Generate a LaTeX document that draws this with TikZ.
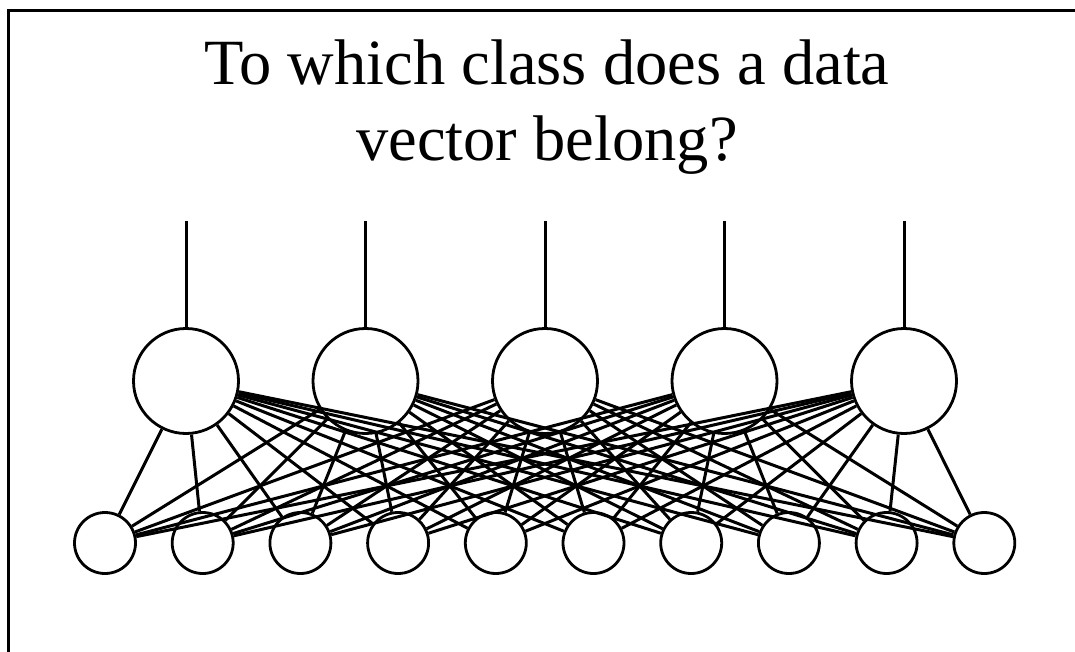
\documentclass[tikz,border=0pt]{standalone}
\usepackage{fontspec}
\setmainfont{Liberation Serif}
\begin{document}
\begin{tikzpicture}[x=1pt, y=-1pt,
    bigunit/.style={circle, draw, line width=2.8pt, minimum size=105pt, inner sep=0pt},
    smallunit/.style={circle, draw, line width=2.8pt, minimum size=61pt, inner sep=0pt},
    link/.style={line width=3pt}]
    \useasboundingbox (0,0) rectangle (1075,652);
    % frame
    \draw[line width=3.5pt] (1075,10.5) -- (8.5,10.5) -- (8.5,652);
    % title
    \node[align=center, inner sep=0pt, font=\fontsize{64.5}{76}\selectfont] (title) at (547,107)
        {To which class does a data\\vector belong?};
    % output units
    \foreach \i in {1,...,5} {
        \node[bigunit] (out\i) at ({186+179.5*(\i-1)},381) {};
        \coordinate (top\i) at ({186+179.5*(\i-1)},221);
        \draw[link] (out\i) -- (top\i);
    }
    % input units
    \foreach \j in {1,...,10}
        \node[smallunit] (in\j) at ({105+97.7*(\j-1)},543) {};
    % all connections
    \foreach \i in {1,...,5}
        \foreach \j in {1,...,10}
            \draw[link] (out\i) -- (in\j);
\end{tikzpicture}
\end{document}
